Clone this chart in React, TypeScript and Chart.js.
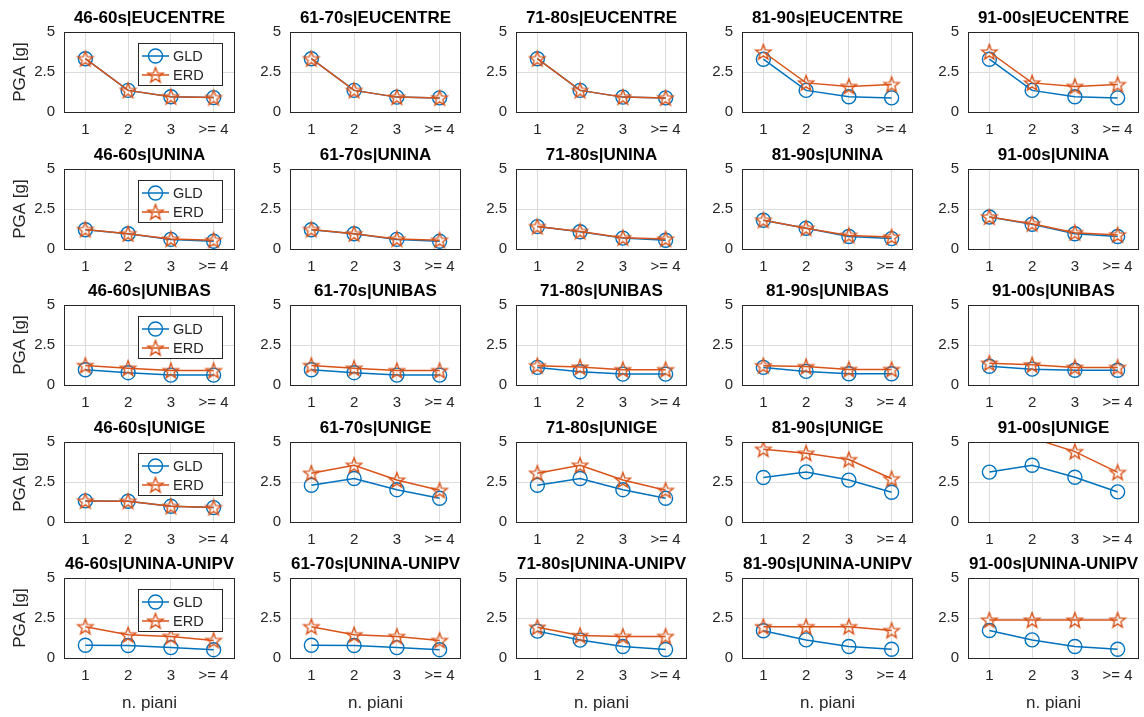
import React, { useEffect, useRef } from 'react';
import { Chart, registerables } from 'chart.js';

Chart.register(...registerables);

const FONT = '"Liberation Sans", Arial, Helvetica, sans-serif';
Chart.defaults.font.family = FONT;

// ---- data ----
const floors = ['1', '2', '3', '>= 4'];
const decades = ['46-60s', '61-70s', '71-80s', '81-90s', '91-00s'];
const groups = ['EUCENTRE', 'UNINA', 'UNIBAS', 'UNIGE', 'UNINA-UNIPV'];
const yTicks = [0, 2.5, 5];

const gldEucentre = [
  [3.33, 1.35, 0.95, 0.9],
  [3.33, 1.35, 0.93, 0.88],
  [3.33, 1.35, 0.93, 0.88],
  [3.3, 1.35, 0.95, 0.88],
  [3.3, 1.35, 0.95, 0.88],
];
const erdEucentre = [
  [3.33, 1.35, 0.95, 0.9],
  [3.33, 1.35, 0.93, 0.88],
  [3.33, 1.35, 0.93, 0.88],
  [3.75, 1.82, 1.6, 1.72],
  [3.75, 1.82, 1.6, 1.72],
];

const gldUnina = [
  [1.2, 0.95, 0.6, 0.48],
  [1.2, 0.95, 0.6, 0.48],
  [1.4, 1.08, 0.68, 0.55],
  [1.8, 1.3, 0.78, 0.65],
  [2.0, 1.55, 0.95, 0.78],
];
const erdUnina = [
  [1.22, 0.95, 0.62, 0.55],
  [1.22, 0.95, 0.62, 0.55],
  [1.4, 1.1, 0.7, 0.62],
  [1.8, 1.3, 0.85, 0.75],
  [2.0, 1.58, 1.02, 0.88],
];

const gldUnibas = [
  [0.95, 0.77, 0.62, 0.62],
  [0.95, 0.77, 0.62, 0.62],
  [1.1, 0.83, 0.68, 0.68],
  [1.1, 0.85, 0.7, 0.7],
  [1.17, 0.99, 0.92, 0.92],
];
const erdUnibas = [
  [1.22, 1.05, 0.9, 0.9],
  [1.22, 1.05, 0.9, 0.9],
  [1.2, 1.12, 0.96, 0.96],
  [1.2, 1.15, 0.97, 0.97],
  [1.36, 1.26, 1.1, 1.1],
];

const gldUnige = [
  [1.32, 1.3, 0.98, 0.9],
  [2.3, 2.72, 2.02, 1.48],
  [2.3, 2.72, 2.02, 1.48],
  [2.78, 3.13, 2.62, 1.86],
  [3.12, 3.55, 2.8, 1.88],
];
const erdUnige = [
  [1.32, 1.3, 0.98, 0.9],
  [3.05, 3.55, 2.62, 1.98],
  [3.05, 3.55, 2.62, 1.98],
  [4.55, 4.3, 3.9, 2.7],
  [5.35, 5.25, 4.4, 3.1],
];

const gldUninaUnipv = [
  [0.8, 0.78, 0.65, 0.52],
  [0.8, 0.78, 0.65, 0.52],
  [1.68, 1.12, 0.72, 0.53],
  [1.7, 1.13, 0.72, 0.55],
  [1.72, 1.13, 0.72, 0.55],
];
const erdUninaUnipv = [
  [1.96, 1.45, 1.35, 1.1],
  [1.96, 1.45, 1.35, 1.1],
  [1.92, 1.4, 1.35, 1.35],
  [1.96, 1.96, 1.96, 1.72],
  [2.37, 2.37, 2.37, 2.37],
];

const GLD = [gldEucentre, gldUnina, gldUnibas, gldUnige, gldUninaUnipv];
const ERD = [erdEucentre, erdUnina, erdUnibas, erdUnige, erdUninaUnipv];

// ---- style ----
const BLUE = '#0072BD';
const ORANGE = '#D95319';
const AXIS = '#262626';
const GRID = '#dcdcdc';

const COL_STEP = 226;
const ROW_STEP = 136.5;
const PLOT_LEFT = 64;
const PLOT_W = 171;
const PLOT_TOP = 32;
const PLOT_H = 80;
const CANVAS_W = 245;

function makeStar(color: string, r: number): HTMLCanvasElement {
  const size = Math.ceil(r * 2 + 4);
  const c = document.createElement('canvas');
  c.width = size;
  c.height = size;
  const ctx = c.getContext('2d')!;
  const cx = size / 2;
  const cy = size / 2 + 0.6;
  const inner = r * 0.42;
  ctx.beginPath();
  for (let i = 0; i < 10; i++) {
    const rad = i % 2 === 0 ? r : inner;
    const a = -Math.PI / 2 + (i * Math.PI) / 5;
    const x = cx + rad * Math.cos(a);
    const y = cy + rad * Math.sin(a);
    if (i === 0) ctx.moveTo(x, y);
    else ctx.lineTo(x, y);
  }
  ctx.closePath();
  ctx.strokeStyle = color;
  ctx.lineWidth = 1.4;
  ctx.stroke();
  return c;
}

function drawLegendMarker(ctx: CanvasRenderingContext2D, kind: 'circle' | 'star', x: number, y: number, star: HTMLCanvasElement) {
  if (kind === 'circle') {
    ctx.beginPath();
    ctx.arc(x, y, 7, 0, Math.PI * 2);
    ctx.strokeStyle = BLUE;
    ctx.lineWidth = 1.4;
    ctx.stroke();
  } else {
    ctx.drawImage(star, x - star.width / 2, y - star.height / 2);
  }
}

function Panel({ row, col }: { row: number; col: number }) {
  const ref = useRef<HTMLCanvasElement>(null);
  const H = row === 4 ? 171 : 150;
  const top = Math.round(row * ROW_STEP);
  const left = col * COL_STEP;

  useEffect(() => {
    const star = makeStar(ORANGE, 8);
    const title = decades[col] + '|' + groups[row];
    const showLegend = col === 0;
    const radius = (r: number) => (c: any) => {
      const v = c.raw as number;
      return v > 5 || v < 0 ? 0 : r;
    };

    const decor = {
      id: 'decor',
      afterDraw(chart: any) {
        const { ctx, chartArea: a } = chart;
        ctx.save();
        ctx.strokeStyle = AXIS;
        ctx.lineWidth = 1;
        ctx.strokeRect(Math.round(a.left) + 0.5, Math.round(a.top) + 0.5, Math.round(a.right - a.left) - 1, Math.round(a.bottom - a.top));
        ctx.fillStyle = '#000';
        ctx.font = `bold 17px ${FONT}`;
        ctx.textAlign = 'center';
        ctx.textBaseline = 'middle';
        ctx.fillText(title, (a.left + a.right) / 2, 18);
        if (showLegend) {
          const bx = Math.round(a.right) - 97;
          const by = Math.round(a.top) + 11;
          ctx.fillStyle = '#fff';
          ctx.fillRect(bx, by, 84, 42);
          ctx.strokeStyle = AXIS;
          ctx.lineWidth = 1;
          ctx.strokeRect(bx + 0.5, by + 0.5, 84, 42);
          const rows: Array<[string, string, 'circle' | 'star', number]> = [
            ['GLD', BLUE, 'circle', by + 13],
            ['ERD', ORANGE, 'star', by + 32],
          ];
          for (const [lab, colr, kind, yy] of rows) {
            ctx.beginPath();
            ctx.moveTo(bx + 4, yy);
            ctx.lineTo(bx + 31, yy);
            ctx.strokeStyle = colr;
            ctx.lineWidth = 1.5;
            ctx.stroke();
            drawLegendMarker(ctx, kind, bx + 17.5, yy, star);
            ctx.fillStyle = AXIS;
            ctx.font = `14.5px ${FONT}`;
            ctx.textAlign = 'left';
            ctx.textBaseline = 'middle';
            ctx.fillText(lab, bx + 35, yy + 0.5);
          }
        }
        ctx.restore();
      },
    };

    const chart = new Chart(ref.current!, {
      type: 'line',
      data: {
        labels: floors,
        datasets: [
          {
            label: 'GLD',
            data: GLD[row][col],
            borderColor: BLUE,
            borderWidth: 1.5,
            tension: 0,
            fill: false,
            pointStyle: 'circle',
            pointRadius: radius(7) as any,
            pointBorderColor: BLUE,
            pointBackgroundColor: 'rgba(0,0,0,0)',
            pointBorderWidth: 1.4,
            order: 1,
          },
          {
            label: 'ERD',
            data: ERD[row][col],
            borderColor: ORANGE,
            borderWidth: 1.5,
            tension: 0,
            fill: false,
            pointStyle: star as any,
            pointRadius: radius(7) as any,
            pointBorderColor: ORANGE,
            pointBackgroundColor: 'rgba(0,0,0,0)',
            order: 0,
          },
        ],
      },
      options: {
        responsive: false,
        animation: false,
        events: [],
        layout: { padding: { top: PLOT_TOP, right: CANVAS_W - PLOT_LEFT - PLOT_W, left: 0, bottom: 0 } },
        plugins: {
          legend: { display: false },
          title: { display: false },
          tooltip: { enabled: false },
        },
        scales: {
          x: {
            type: 'category',
            offset: true,
            grid: { color: GRID, drawTicks: false, lineWidth: 1 },
            border: { display: false },
            ticks: { color: AXIS, font: { size: 15 }, padding: 9, maxRotation: 0, autoSkip: false },
            title: {
              display: row === 4,
              text: 'n. piani',
              color: AXIS,
              font: { size: 17 },
              padding: { top: 0, bottom: 3 },
            },
            afterFit: (s: any) => {
              s.height = H - PLOT_TOP - PLOT_H;
            },
          },
          y: {
            min: 0,
            max: 5,
            afterBuildTicks: (s: any) => {
              s.ticks = yTicks.map((v) => ({ value: v }));
            },
            grid: { color: GRID, drawTicks: false, lineWidth: 1 },
            border: { display: false },
            ticks: {
              color: AXIS,
              font: { size: 15 },
              padding: 9,
              callback: (v: any) => String(v),
            },
            title: {
              display: col === 0,
              text: 'PGA [g]',
              color: AXIS,
              font: { size: 17 },
              padding: { top: 10, bottom: 0 },
            },
            afterFit: (s: any) => {
              s.width = PLOT_LEFT;
            },
          },
        },
      },
      plugins: [decor],
    } as any);
    return () => chart.destroy();
  }, [row, col, H]);

  return (
    <canvas
      ref={ref}
      width={CANVAS_W}
      height={H}
      style={{ position: 'absolute', left, top, width: CANVAS_W, height: H, display: 'block' }}
    />
  );
}

export default function App() {
  const panels = [];
  for (let r = 0; r < groups.length; r++) {
    for (let c = 0; c < decades.length; c++) {
      panels.push(<Panel key={`${r}-${c}`} row={r} col={c} />);
    }
  }
  return (
    <div style={{ position: 'absolute', left: 0, top: 0, width: 1144, height: 717, background: '#fff', overflow: 'hidden' }}>
      {panels}
    </div>
  );
}
